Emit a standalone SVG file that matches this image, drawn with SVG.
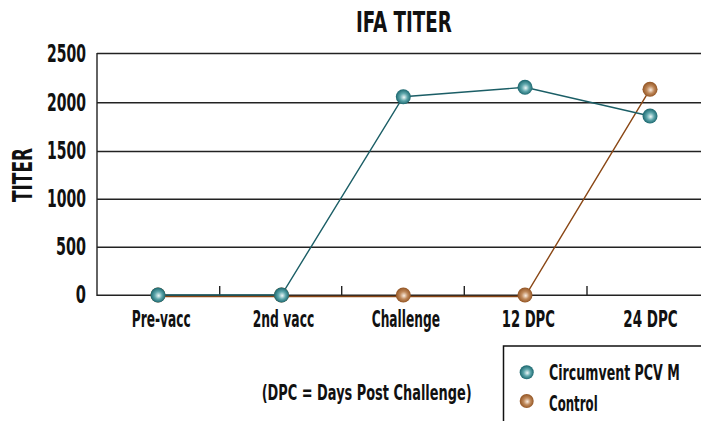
<svg xmlns="http://www.w3.org/2000/svg" width="701" height="421" viewBox="0 0 701 421">
<style>
.t{font-family:"DejaVu Sans Condensed","DejaVu Sans",sans-serif;fill:#111;font-weight:bold;}
.lab{font-size:23px;}
.ytk{font-size:25px;text-anchor:end;}
.grid{stroke:#222;stroke-width:1.4;fill:none;}
.teal{stroke:#1b5e66;stroke-width:1.4;fill:none;}
.brown{stroke:#8a4715;stroke-width:1.4;fill:none;}
</style>
<defs>
<radialGradient id="gT" cx="0.5" cy="0.5" r="0.55" fx="0.55" fy="0.55">
<stop offset="0" stop-color="#eef8f8"/>
<stop offset="0.45" stop-color="#5fa7ac"/>
<stop offset="1" stop-color="#0d5a62"/>
</radialGradient>
<radialGradient id="gB" cx="0.5" cy="0.5" r="0.55" fx="0.55" fy="0.55">
<stop offset="0" stop-color="#fbeee2"/>
<stop offset="0.45" stop-color="#c08a5c"/>
<stop offset="1" stop-color="#8a4a18"/>
</radialGradient>
</defs>
<rect width="701" height="421" fill="#fff"/>
<g id="title">
<text class="t" transform="translate(404,32) scale(0.7,1)" font-size="28" text-anchor="middle" textLength="137" lengthAdjust="spacingAndGlyphs">IFA TITER</text>
</g>
<g id="y-axis-title">
<text class="t" transform="translate(32,175) rotate(-90) scale(0.7,1)" font-size="27" text-anchor="middle" textLength="77" lengthAdjust="spacingAndGlyphs">TITER</text>
</g>
<g id="grid">
<line class="grid" x1="97" y1="53.5" x2="701" y2="53.5"/>
<line class="grid" x1="97" y1="102.7" x2="701" y2="102.7"/>
<line class="grid" x1="97" y1="151.5" x2="701" y2="151.5"/>
<line class="grid" x1="97" y1="199.3" x2="701" y2="199.3"/>
<line class="grid" x1="97" y1="247.3" x2="701" y2="247.3"/>
<line class="grid" x1="97" y1="295.3" x2="701" y2="295.3"/>
<line class="grid" x1="97" y1="53" x2="97" y2="296"/>
<line class="grid" x1="219.7" y1="286" x2="219.7" y2="295"/>
<line class="grid" x1="341.7" y1="286" x2="341.7" y2="295"/>
<line class="grid" x1="464.3" y1="286" x2="464.3" y2="295"/>
<line class="grid" x1="587" y1="286" x2="587" y2="295"/>
</g>
<g id="y-ticks">
<text class="t ytk" transform="translate(86,61.5) scale(0.6,1)" textLength="65" lengthAdjust="spacingAndGlyphs">2500</text>
<text class="t ytk" transform="translate(86,110.5) scale(0.6,1)" textLength="65" lengthAdjust="spacingAndGlyphs">2000</text>
<text class="t ytk" transform="translate(86,159) scale(0.6,1)" textLength="65" lengthAdjust="spacingAndGlyphs">1500</text>
<text class="t ytk" transform="translate(86,207) scale(0.6,1)" textLength="65" lengthAdjust="spacingAndGlyphs">1000</text>
<text class="t ytk" transform="translate(86,255) scale(0.6,1)" textLength="50" lengthAdjust="spacingAndGlyphs">500</text>
<text class="t ytk" transform="translate(86,303) scale(0.6,1)" textLength="17" lengthAdjust="spacingAndGlyphs">0</text>
</g>
<g id="x-labels">
<text class="t lab" transform="translate(131.7,326.7) scale(0.6,1)" textLength="98.3" lengthAdjust="spacingAndGlyphs">Pre-vacc</text>
<text class="t lab" transform="translate(252.7,326.7) scale(0.6,1)" textLength="102.7" lengthAdjust="spacingAndGlyphs">2nd vacc</text>
<text class="t lab" transform="translate(371.7,326.7) scale(0.6,1)" textLength="113.8" lengthAdjust="spacingAndGlyphs">Challenge</text>
<text class="t lab" transform="translate(501.7,326.7) scale(0.6,1)" textLength="88.8" lengthAdjust="spacingAndGlyphs">12 DPC</text>
<text class="t lab" transform="translate(623.3,326.7) scale(0.6,1)" textLength="90.7" lengthAdjust="spacingAndGlyphs">24 DPC</text>
</g>
<g id="connectors">
<polyline id="control-line" class="brown" points="158,296.5 281.5,296.5 403.3,296.5 525,296.5 650,89.3"/>
<polyline id="circumvent-line" class="teal" points="158,295 281.5,295 403.3,96.7 525,87.3 650,116"/>
</g>
<g id="control-points">
<circle cx="158" cy="295" r="7.5" fill="url(#gB)"/>
<circle cx="281.5" cy="295" r="7.5" fill="url(#gB)"/>
<circle cx="403.3" cy="295" r="7.5" fill="url(#gB)"/>
<circle cx="525" cy="295" r="7.5" fill="url(#gB)"/>
<circle cx="650" cy="89.3" r="7.5" fill="url(#gB)"/>
</g>
<g id="circumvent-points">
<circle cx="158" cy="295" r="7.5" fill="url(#gT)"/>
<circle cx="281.5" cy="295" r="7.5" fill="url(#gT)"/>
<circle cx="403.3" cy="96.7" r="7.5" fill="url(#gT)"/>
<circle cx="525" cy="87.3" r="7.5" fill="url(#gT)"/>
<circle cx="650" cy="116" r="7.5" fill="url(#gT)"/>
</g>
<g id="footnote">
<text class="t" transform="translate(261.7,400) scale(0.65,1)" font-size="21" textLength="323" lengthAdjust="spacingAndGlyphs">(DPC = Days Post Challenge)</text>
</g>
<g id="legend">
<path d="M503.5,421 V346 H701" fill="none" stroke="#111" stroke-width="1.5"/>
<circle cx="526.7" cy="372.3" r="7" fill="url(#gT)"/>
<text class="t" font-size="22" transform="translate(549,380) scale(0.62,1)" textLength="211" lengthAdjust="spacingAndGlyphs">Circumvent PCV M</text>
<circle cx="526.7" cy="401" r="7" fill="url(#gB)"/>
<text class="t" font-size="22" transform="translate(549,411) scale(0.62,1)" textLength="78.5" lengthAdjust="spacingAndGlyphs">Control</text>
</g>
</svg>
